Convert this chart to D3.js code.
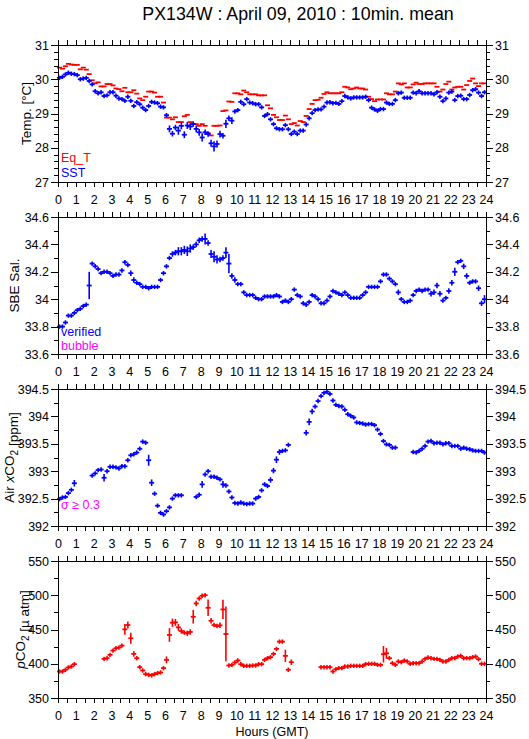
<!DOCTYPE html>
<html lang="en">
<head>
<meta charset="UTF-8">
<title>PX134W : April 09, 2010 : 10min. mean</title>
<script src="https://d3js.org/d3.v7.min.js"></script>
<style>
  body { margin: 0; background: #fff; }
  svg { display: block; font-family: "Liberation Sans", Arial, sans-serif; }
  .axis path, .axis line { stroke: #000; shape-rendering: crispEdges; }
  .axis text { font-size: 12.5px; fill: #000; font-family: "Liberation Sans", Arial, sans-serif; }
</style>
</head>
<body>
<svg id="chart" width="529" height="739"></svg>
<script>
// ---- data: 10-minute means, 144 per day (null = no data) ----
const hourTicks = d3.range(0, 25);
const tempTicks = [27, 28, 29, 30, 31];
const salTicks = [33.6, 33.8, 34, 34.2, 34.4, 34.6];
const xco2Ticks = [392, 392.5, 393, 393.5, 394, 394.5];
const pco2Ticks = [350, 400, 450, 500, 550];

const eqT = [
  30.34,30.31,30.38,30.45,30.43,30.42, 30.42,30.29,30.34,30.28,30.15,29.97,
  29.88,29.91,29.79,29.79,29.86,29.86, 29.82,29.73,29.71,29.65,29.75,29.62,
  29.62,29.68,29.58,29.44,29.39,29.49, 29.64,29.64,29.61,29.49,29.49,29.32,
  28.88,28.88,28.83,28.89,28.75,28.75, 28.92,28.96,28.75,28.69,28.69,28.64,
  28.69,28.64,28.43,28.36,28.64,28.64, 28.65,29.07,29.09,29.35,29.34,29.59,
  29.59,29.56,29.67,29.62,29.56,29.56, 29.56,29.53,29.53,29.53,29.24,29.15,
  28.96,28.89,28.81,28.81,28.94,28.83, 28.69,28.72,28.65,28.78,28.75,28.93,
  29.13,29.28,29.39,29.40,29.46,29.57, 29.62,29.59,29.59,29.59,29.59,29.62,
  29.78,29.76,29.71,29.73,29.76,29.73, 29.73,29.70,29.49,29.42,29.36,29.41,
  29.41,29.41,29.59,29.56,29.56,29.64, 29.88,29.85,29.88,29.76,29.76,29.85,
  29.90,29.86,29.86,29.88,29.88,29.88, 29.88,29.78,29.64,29.70,29.86,29.93,
  29.70,29.76,29.78,29.78,29.70,29.83, 29.95,30.02,29.88,29.80,29.88,29.88
];
const sst = [
  30.04,30.07,30.14,30.19,30.16,30.15, 30.12,30.00,30.02,30.04,29.95,29.85,
  29.65,29.59,29.62,29.51,29.53,29.62, 29.62,29.52,29.44,29.42,29.37,29.49,
  29.37,29.22,29.33,29.27,29.17,29.10, 29.22,29.34,29.32,29.30,29.20,29.18,
  28.95,28.55,28.41,28.59,28.50,28.64, 28.38,28.65,28.62,28.69,28.55,28.45,
  28.30,28.45,28.40,28.13,28.04,28.11, 28.40,28.35,28.70,28.86,28.79,29.06,
  29.10,29.34,29.27,29.42,29.32,29.30, 29.27,29.27,29.18,28.93,28.98,28.83,
  28.69,28.57,28.54,28.54,28.66,28.54, 28.40,28.47,28.40,28.50,28.50,28.68,
  28.86,29.01,29.10,29.12,29.12,29.20, 29.32,29.33,29.30,29.31,29.28,29.36,
  29.51,29.47,29.44,29.47,29.47,29.47, 29.47,29.49,29.39,29.17,29.12,29.08,
  29.13,29.13,29.32,29.28,29.28,29.39, 29.59,29.61,29.46,29.46,29.46,29.61,
  29.59,29.65,29.59,29.59,29.59,29.59, 29.56,29.62,29.49,29.36,29.44,29.61,
  29.64,29.39,29.51,29.52,29.42,29.42, 29.54,29.68,29.71,29.61,29.51,29.62
];
const sstSd = [
  .03,.03,.03,.03,.03,.03, .03,.03,.03,.05,.03,.04, .04,.03,.03,.02,.02,.06, .04,.03,.03,.03,.03,.04,
  .03,.06,.04,.06,.04,.03, .03,.03,.03,.04,.05,.04, .06,.10,.08,.08,.12,.10, .10,.10,.10,.08,.10,.10,
  .12,.08,.08,.10,.15,.10, .10,.08,.12,.08,.10,.05, .05,.04,.04,.05,.04,.03, .03,.03,.05,.06,.04,.05,
  .04,.06,.05,.04,.03,.04, .05,.05,.05,.04,.04,.04, .04,.04,.03,.03,.03,.03, .03,.03,.03,.02,.02,.04,
  .03,.03,.02,.02,.02,.02, .02,.03,.06,.05,.03,.06, .04,.03,.03,.03,.03,.06, .03,.03,.03,.02,.02,.03,
  .03,.03,.02,.02,.02,.02, .03,.03,.04,.03,.04,.05, .04,.05,.04,.04,.06,.04, .03,.04,.04,.06,.03,.04
];
const sal = [
  33.80,33.80,33.83,33.88,33.88,33.90, 33.92,33.93,33.95,33.96,34.10,34.26,
  34.24,34.22,34.19,34.20,34.20,34.19, 34.17,34.18,34.18,34.21,34.27,34.25,
  34.19,34.14,34.12,34.11,34.09,34.09, 34.08,34.09,34.09,34.09,34.14,34.19,
  34.24,34.30,34.33,34.34,34.35,34.35, 34.36,34.35,34.37,34.38,34.40,34.43,
  34.44,34.44,34.41,34.33,34.31,34.29, 34.29,34.30,34.34,34.26,34.17,34.14,
  34.11,34.11,34.05,34.03,34.03,34.03, 34.01,34.00,34.00,34.02,34.02,34.02,
  34.02,34.03,34.02,33.98,33.99,33.98, 34.00,34.07,34.03,34.02,33.97,33.96,
  33.98,34.03,34.02,34.00,33.97,33.97, 33.99,34.02,34.06,34.05,34.04,34.03,
  34.05,34.03,34.01,34.01,34.01,34.01, 34.03,34.05,34.09,34.09,34.09,34.09,
  34.13,34.18,34.18,34.15,34.13,34.11, 34.05,34.00,33.98,33.98,33.99,34.03,
  34.06,34.07,34.06,34.07,34.07,34.04, 34.05,34.10,34.04,33.99,34.01,34.06,
  34.12,34.20,34.27,34.28,34.24,34.17, 34.12,34.13,34.13,34.08,33.97,34.00
];
const salSd = [
  .005,.005,.01,.005,.005,.005, .005,.005,.005,.01,.1,.01, .01,.01,.01,.005,.005,.005, .01,.005,.01,.01,.01,.01,
  .02,.02,.01,.01,.005,.005, .005,.005,.01,.005,.005,.01, .01,.015,.02,.02,.03,.03, .03,.035,.03,.02,.02,.02,
  .02,.04,.02,.03,.04,.03, .02,.02,.04,.07,.02,.02, .01,.01,.01,.01,.01,.01, .01,.01,.005,.005,.005,.005,
  .005,.005,.005,.01,.005,.005, .005,.015,.015,.005,.005,.005, .005,.01,.005,.005,.005,.005, .005,.01,.005,.005,.005,.005,
  .01,.005,.005,.005,.005,.005, .005,.01,.005,.005,.005,.005, .015,.01,.005,.005,.005,.005, .02,.01,.005,.005,.01,.01,
  .01,.005,.005,.005,.005,.02, .02,.02,.02,.01,.01,.02, .02,.03,.01,.005,.02,.02, .01,.005,.005,.02,.02,.03
];
const xco2 = [
  392.49,392.52,392.53,392.60,392.66,392.78, null,null,null,null,null,392.92,
  392.96,393.02,393.03,392.88,393.00,393.08, 393.08,393.07,393.05,393.09,393.09,393.20,
  393.29,393.31,393.34,393.41,393.54,393.52, 393.20,392.79,392.59,392.37,392.24,392.21,
  392.27,392.34,392.50,392.56,392.56,392.56, null,null,null,null,392.53,392.57,
  392.76,392.94,393.00,392.90,392.90,392.88, 392.85,392.76,392.74,392.63,392.52,392.42,
  392.41,392.43,392.41,392.40,392.41,392.41, 392.50,392.53,392.65,392.76,392.73,392.84,
  393.01,393.21,393.35,393.37,393.38,393.48, null,null,null,null,null,393.70,
  393.90,394.09,394.18,394.28,394.37,394.43, 394.45,394.41,394.29,394.21,394.19,394.18,
  394.12,394.04,394.01,393.98,393.89,393.88, 393.87,393.85,393.86,393.86,393.84,393.76,
  393.68,393.55,393.49,393.48,393.43,393.43, null,null,null,null,null,393.35,
  393.34,393.37,393.41,393.46,393.54,393.55, 393.51,393.52,393.52,393.49,393.51,393.51,
  393.46,393.46,393.46,393.41,393.43,393.41, 393.40,393.38,393.37,393.37,393.37,393.34
];
const xco2Sd = [
  .04,.03,.03,.03,.03,.06, 0,0,0,0,0,.04, .03,.03,.04,.07,.04,.03, .03,.04,.03,.03,.03,.03,
  .04,.03,.04,.03,.04,.04, .10,.06,.04,.04,.03,.03, .03,.03,.04,.03,.03,.03, 0,0,0,0,.04,.04,
  .06,.04,.04,.04,.04,.04, .04,.06,.04,.04,.04,.04, .04,.04,.04,.04,.04,.04, .03,.04,.04,.04,.04,.05,
  .05,.06,.05,.04,.03,.04, 0,0,0,0,0,.05, .06,.05,.04,.04,.04,.04, .04,.04,.04,.04,.03,.03,
  .03,.03,.03,.03,.03,.03, .03,.03,.03,.03,.03,.04, .03,.03,.03,.03,.03,.02, 0,0,0,0,0,.04,
  .04,.03,.04,.04,.04,.04, .03,.03,.03,.03,.03,.03, .03,.03,.03,.03,.03,.03, .03,.03,.03,.04,.03,.04
];
const pco2 = [
  388.7,388.7,391.2,394.6,396.0,399.4, null,null,null,null,null,null,
  null,null,null,407.1,408.1,413.0, 419.2,422.6,423.6,426.5,450.2,456.5,
  437.2,414.4,408.1,395.0,390.2,384.9, 383.9,383.0,384.9,386.3,387.3,393.6,
  405.7,442.0,459.9,460.4,453.1,447.8, 445.4,444.4,446.4,468.6,488.0,495.3,
  499.2,500.1,481.7,462.8,456.5,455.1, 456.1,479.3,443.5,397.5,398.4,401.8,
  404.7,399.4,397.0,397.0,397.0,397.5, 397.5,399.4,399.4,405.7,408.1,409.6,
  414.4,421.7,432.3,432.3,411.5,391.2, 402.3,null,null,null,null,null,
  null,null,null,null,395.0,395.0, 395.0,395.0,388.7,392.1,393.6,393.6,
  396.0,396.0,397.0,397.0,397.0,397.0, 397.0,399.4,399.9,399.9,399.9,398.4,
  398.4,413.9,415.3,408.1,400.8,398.4, 403.3,402.3,404.7,403.3,399.9,400.8,
  400.8,400.8,403.3,407.1,409.1,408.1, 407.1,407.1,405.7,403.3,403.3,405.7,
  408.1,408.1,410.5,411.5,408.1,408.1, 408.1,409.6,410.5,406.7,399.9,399.9
];
const pco2Sd = [
  1,1,1,1,1,1, 0,0,0,0,0,0, 0,0,0,1,1,2, 2,2,2,3,8,5,
  8,4,2,2,2,2, 1,1,1,1,1,2, 5,10,6,5,5,4, 3,4,4,10,4,3,
  3,2,12,4,2,2, 4,14,40,2,2,2, 2,1,1,1,1,1, 1,1,1,2,2,2,
  2,3,3,3,9,2, 4,0,0,0,0,0, 0,0,0,0,1,1, 1,1,1,1,1,1,
  1,1,1,1,1,1, 1,1,1,1,1,1, 1,12,8,2,1,1, 1,1,2,1,1,1,
  1,1,1,1,1,1, 1,1,1,1,1,1, 1,1,1,1,1,1, 1,1,1,2,1,1
];

// ---- layout ----
const svg = d3.select("#chart");
const left = 58, plotW = 428, plotH = 137;
const tops = [45, 217, 389, 561];
const x = d3.scaleLinear().domain([0, 24]).range([left, left + plotW]);
const RED = "#ff0000", BLUE = "#0000ff", MAGENTA = "#ff00ff";

const panels = [
  { domain: [27, 31], ticks: tempTicks, minor: 0.2, fmt: d3.format("d"), labelX: 26,
    label: [["Temp. [°C]"]],
    series: [{ v: eqT, sd: null, c: RED }, { v: sst, sd: sstSd, c: BLUE }],
    legend: [["Eq_T", RED, 162], ["SST", BLUE, 177]] },
  { domain: [33.6, 34.6], ticks: salTicks, minor: 0.1, fmt: d => d3.format(".1f")(d).replace(/\.0$/, ""), labelX: 14,
    label: [["SBE Sal."]],
    series: [{ v: sal, sd: salSd, c: BLUE }],
    legend: [["verified", BLUE, 336], ["bubble", MAGENTA, 349.5]] },
  { domain: [392, 394.5], ticks: xco2Ticks, minor: 0.25, fmt: d => String(d), labelX: 9,
    label: [["Air "], ["x", "italic"], ["CO"], ["2", "sub"], [" [ppm]"]],
    series: [{ v: xco2, sd: xco2Sd, c: BLUE }],
    legend: [["σ ≥ 0.3", MAGENTA, 508.5]] },
  { domain: [350, 550], ticks: pco2Ticks, minor: 25, fmt: d3.format("d"), labelX: 20,
    label: [["p", "italic"], ["CO"], ["2", "sub"], [" [µ atm]"]],
    series: [{ v: pco2, sd: pco2Sd, c: RED }],
    legend: [] }
];

// title
svg.append("text")
  .attr("x", 298).attr("y", 20)
  .attr("text-anchor", "middle")
  .attr("font-size", 17.8)
  .text("PX134W : April 09, 2010 : 10min. mean");

panels.forEach((p, k) => {
  const top = tops[k];
  const y = d3.scaleLinear().domain(p.domain).range([top + plotH, top]);
  const g = svg.append("g");
  const minorTicks = d3.range(p.domain[0], p.domain[1] + p.minor / 2, p.minor);

  // data crosses: horizontal bar = 10 min, vertical bar = +/- sd
  p.series.forEach(s => {
    const pts = s.v.map((v, i) => ({ t: i / 6 + 1 / 12, v: v, sd: s.sd ? s.sd[i] : 0 }))
      .filter(d => d.v != null);
    g.append("g").selectAll("line").data(pts).enter().append("line")
      .attr("x1", d => x(d.t) - 2.5).attr("x2", d => x(d.t) + 2.5)
      .attr("y1", d => y(d.v)).attr("y2", d => y(d.v))
      .attr("stroke", s.c).attr("stroke-width", 1.8);
    if (s.sd) {
      g.append("g").selectAll("line").data(pts).enter().append("line")
        .attr("x1", d => x(d.t)).attr("x2", d => x(d.t))
        .attr("y1", d => Math.min(y(d.v + d.sd), y(d.v) - 2.2))
        .attr("y2", d => Math.max(y(d.v - d.sd), y(d.v) + 2.2))
        .attr("stroke", s.c).attr("stroke-width", 1.6);
    }
  });

  // frame
  g.append("rect")
    .attr("x", left).attr("y", top).attr("width", plotW).attr("height", plotH)
    .attr("fill", "none").attr("stroke", "#000").attr("shape-rendering", "crispEdges");

  // x axes (half-hour ticks, hour labels)
  const halfHours = d3.range(0, 24.01, 0.5);
  g.append("g").attr("class", "axis").attr("transform", `translate(0,${top + plotH})`)
    .call(d3.axisBottom(x).tickValues(halfHours).tickSize(5).tickSizeOuter(0).tickPadding(8)
      .tickFormat(d => hourTicks.includes(d) ? d : ""));
  g.append("g").attr("class", "axis").attr("transform", `translate(0,${top})`)
    .call(d3.axisTop(x).tickValues(halfHours).tickSize(5).tickSizeOuter(0).tickFormat(""));

  // y axes: major with labels, minor without
  g.append("g").attr("class", "axis").attr("transform", `translate(${left},0)`)
    .call(d3.axisLeft(y).tickValues(p.ticks).tickSize(7).tickSizeOuter(0).tickPadding(2).tickFormat(p.fmt));
  g.append("g").attr("class", "axis").attr("transform", `translate(${left},0)`)
    .call(d3.axisLeft(y).tickValues(minorTicks).tickSize(4).tickSizeOuter(0).tickFormat(""));
  g.append("g").attr("class", "axis").attr("transform", `translate(${left + plotW},0)`)
    .call(d3.axisRight(y).tickValues(p.ticks).tickSize(7).tickSizeOuter(0).tickPadding(2).tickFormat(p.fmt));
  g.append("g").attr("class", "axis").attr("transform", `translate(${left + plotW},0)`)
    .call(d3.axisRight(y).tickValues(minorTicks).tickSize(4).tickSizeOuter(0).tickFormat(""));

  // y label
  const lab = g.append("text")
    .attr("transform", `translate(${p.labelX},${top + plotH / 2}) rotate(-90)`)
    .attr("text-anchor", "middle").attr("font-size", 13.5).attr("dy", "0.35em");
  p.label.forEach(([txt, style]) => {
    const ts = lab.append("tspan").text(txt);
    if (style === "italic") ts.attr("font-style", "italic");
    if (style === "sub") {
      ts.attr("font-size", 10).attr("dy", 4);
      lab.append("tspan").attr("dy", -4).text("");
    }
  });

  // legend texts
  p.legend.forEach(([txt, col, yy]) => {
    g.append("text").attr("x", 61).attr("y", yy)
      .attr("font-size", 12.5).attr("fill", col).text(txt);
  });
});

// x axis title
svg.append("text")
  .attr("x", 272).attr("y", 736)
  .attr("text-anchor", "middle")
  .attr("font-size", 12.5)
  .text("Hours (GMT)");
</script>
</body>
</html>
